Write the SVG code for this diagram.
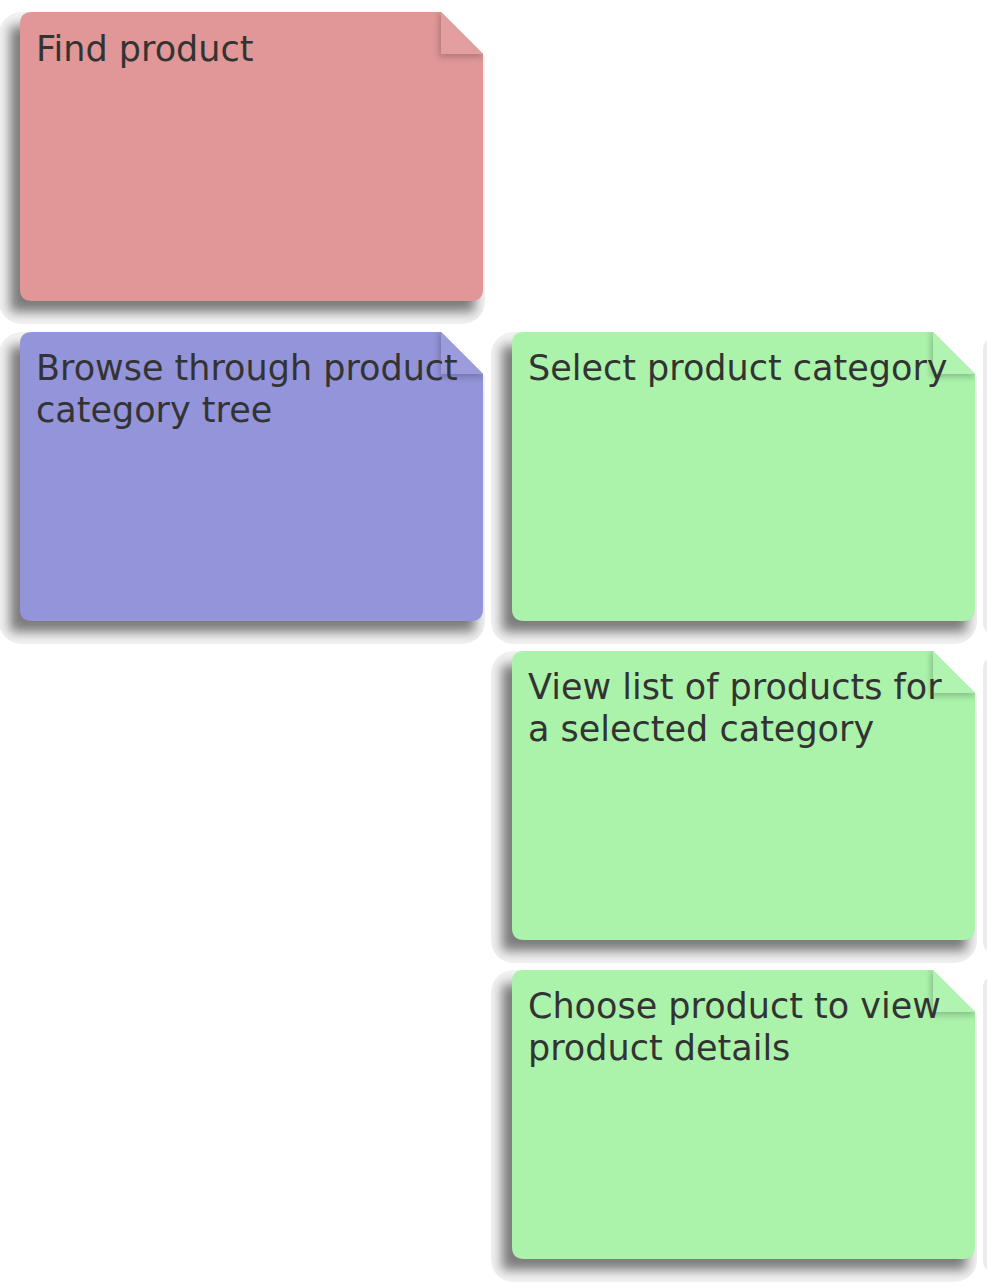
<svg xmlns="http://www.w3.org/2000/svg" xmlns:xlink="http://www.w3.org/1999/xlink" width="987" height="1284" viewBox="0 0 987 1284">
<style>
.txt{font-family:"DejaVu Sans","Verdana",sans-serif;font-size:35px;fill:#333333}
.pink{fill:#e19797}
.blue{fill:#9494da}
.green{fill:#abf3ab}
.outer{fill:#f2f2f2}
.dark{fill:#7a7a7a;filter:url(#blur6)}
.flapsh{fill:#000;opacity:0.22;filter:url(#blur3)}
.flaphi{fill:#fff;opacity:0.08}
.sliver{fill:#ececec}
</style>
<defs>
<filter id="blur6" x="-20%" y="-20%" width="140%" height="140%"><feGaussianBlur stdDeviation="6"/></filter>
<filter id="blur3" x="-50%" y="-50%" width="200%" height="200%"><feGaussianBlur stdDeviation="3"/></filter>
<path id="body" d="M12,0 H421 L463,42 V277 Q463,289 451,289 H12 Q0,289 0,277 V12 Q0,0 12,0 Z"/>
<clipPath id="noteClip"><use xlink:href="#body"/></clipPath>
<clipPath id="shClip"><rect x="-21" y="0" width="486" height="312" rx="22"/></clipPath>
<clipPath id="cornerClip"><polygon points="-30,-10 411,-10 473,52 473,330 -30,330"/></clipPath>
<g id="shadow">
<g clip-path="url(#cornerClip)">
<g clip-path="url(#shClip)">
<rect class="outer" x="-21" y="0" width="486" height="312" rx="22"/>
<path class="dark" d="M-10,14 H410 L455,59 V300 H-10 Z"/>
</g>
</g>
</g>
<g id="fold">
<g clip-path="url(#noteClip)"><path class="flapsh" d="M419,-2 L419,45 L466,45 Z"/></g>
</g>
<path id="flap" d="M421,0 L421,42 L463,42 Z"/>
</defs>
<g id="edge-slivers">
<rect class="sliver" x="983" y="338" width="30" height="296" rx="10"/>
<rect class="sliver" x="983" y="657" width="30" height="296" rx="10"/>
<rect class="sliver" x="983" y="976" width="30" height="296" rx="10"/>
</g>
<g id="connectors"></g>
<g id="node-find-product" transform="translate(20,12)">
<use xlink:href="#shadow"/>
<use xlink:href="#body" class="pink"/>
<use xlink:href="#fold"/>
<use xlink:href="#flap" class="pink"/>
<use xlink:href="#flap" class="flaphi"/>
<text class="txt" x="16" y="49">Find product</text>
</g>
<g id="node-browse" transform="translate(20,332)">
<use xlink:href="#shadow"/>
<use xlink:href="#body" class="blue"/>
<use xlink:href="#fold"/>
<use xlink:href="#flap" class="blue"/>
<use xlink:href="#flap" class="flaphi"/>
<text class="txt" x="16" y="48">Browse through product</text>
<text class="txt" x="16" y="90">category tree</text>
</g>
<g id="node-select-category" transform="translate(512,332)">
<use xlink:href="#shadow"/>
<use xlink:href="#body" class="green"/>
<use xlink:href="#fold"/>
<use xlink:href="#flap" class="green"/>
<use xlink:href="#flap" class="flaphi"/>
<text class="txt" x="16" y="48">Select product category</text>
</g>
<g id="node-view-list" transform="translate(512,651)">
<use xlink:href="#shadow"/>
<use xlink:href="#body" class="green"/>
<use xlink:href="#fold"/>
<use xlink:href="#flap" class="green"/>
<use xlink:href="#flap" class="flaphi"/>
<text class="txt" x="16" y="48">View list of products for</text>
<text class="txt" x="16" y="90">a selected category</text>
</g>
<g id="node-choose-product" transform="translate(512,970)">
<use xlink:href="#shadow"/>
<use xlink:href="#body" class="green"/>
<use xlink:href="#fold"/>
<use xlink:href="#flap" class="green"/>
<use xlink:href="#flap" class="flaphi"/>
<text class="txt" x="16" y="48">Choose product to view</text>
<text class="txt" x="16" y="90">product details</text>
</g>
</svg>
